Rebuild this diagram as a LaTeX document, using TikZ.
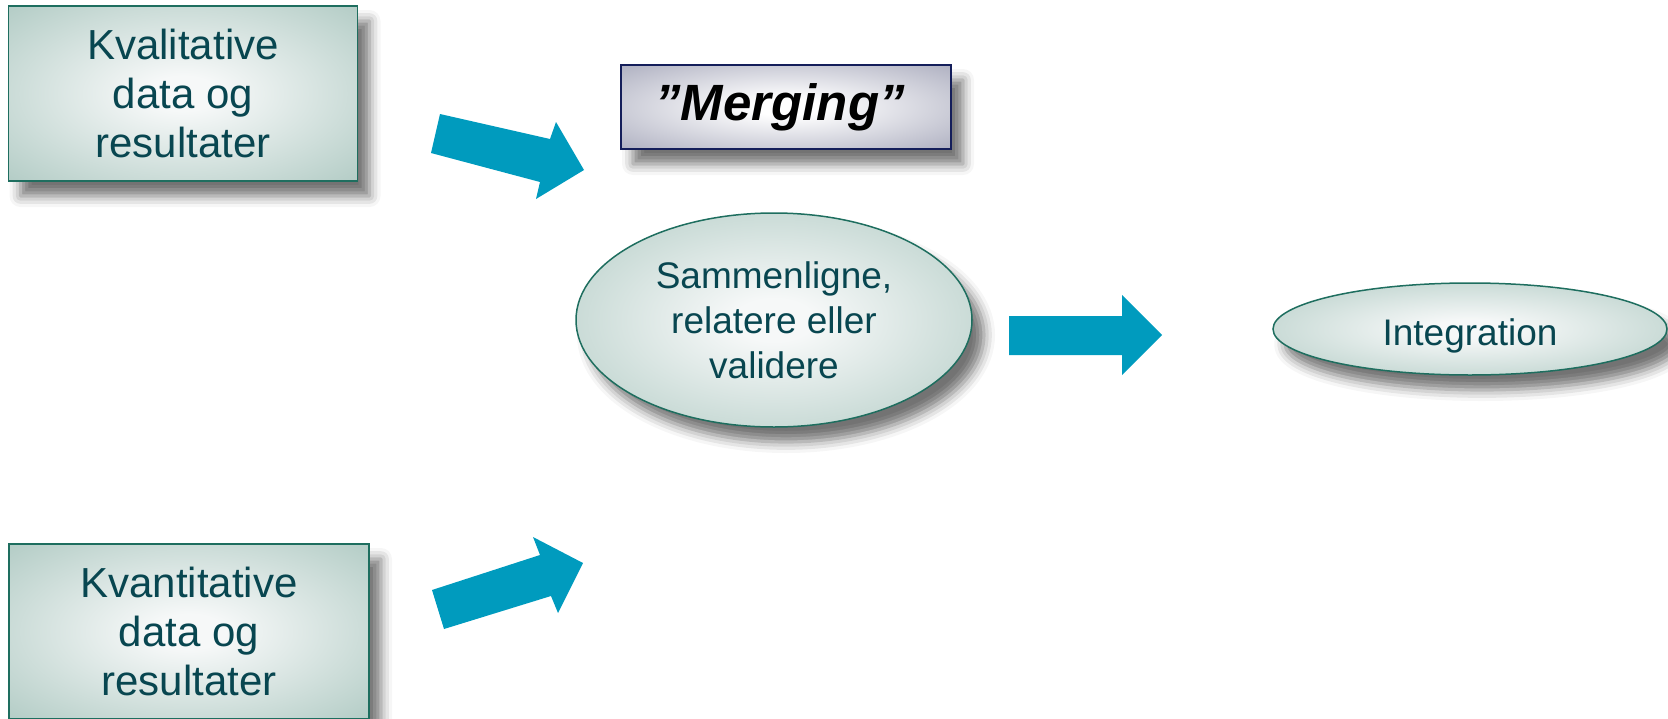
\documentclass[tikz,border=0pt]{standalone}
\usepackage{fontspec}
\setmainfont{Liberation Sans}
\usetikzlibrary{shapes.geometric,shadows.blur}
\definecolor{txt}{RGB}{8,70,80}
\definecolor{arr}{RGB}{0,155,190}
\definecolor{tealedge}{RGB}{30,110,95}
\definecolor{tealfill}{RGB}{165,195,187}
\definecolor{tealcore}{RGB}{246,248,248}
\definecolor{navy}{RGB}{20,30,90}
\definecolor{grayfill}{RGB}{150,152,174}
\pgfdeclareradialshading[tealfill,tealcore]{tealglow}{\pgfpoint{0bp}{0bp}}{%
  color(0bp)=(tealcore); color(5bp)=(tealcore); color(42bp)=(tealfill); color(72bp)=(tealfill!90!black)}
\pgfdeclareradialshading[grayfill]{grayglow}{\pgfpoint{0bp}{0bp}}{%
  color(0bp)=(white); color(5bp)=(white); color(45bp)=(grayfill); color(72bp)=(grayfill!90!black)}
\tikzset{
  shad/.style={blur shadow={shadow xshift=12pt, shadow yshift=-15pt, shadow blur radius=11pt, shadow opacity=55}},
  databox/.style={rectangle, draw=tealedge, line width=1.8pt, shading=tealglow,
    minimum height=175pt, inner sep=0pt, text=txt, align=center, font=\fontsize{42}{49}\selectfont, shad},
  mergebox/.style={rectangle, draw=navy, line width=1.8pt, shading=grayglow,
    minimum width=330pt, minimum height=84pt, inner sep=0pt, text=black, font=\fontsize{51}{54}\selectfont\bfseries\itshape, shad},
  oval/.style={ellipse, draw=tealedge, line width=1.5pt, shading=tealglow,
    inner sep=0pt, text=txt, align=center, font=\fontsize{37}{45}\selectfont, shad},
  blockarrow/.style={fill=arr, draw=none}
}
\begin{document}
\begin{tikzpicture}[x=1pt,y=-1pt]
\useasboundingbox (0,0) rectangle (1668,718);
\node[databox, minimum width=349pt] (qual) at (183,93.5) {Kvalitative\\data og\\resultater};
\node[databox, minimum width=360pt] (quant) at (189,631.5) {Kvantitative\\data og\\resultater};
\node[mergebox] (merge) at (786,107) {\hspace*{-12pt}”Merging”};
\node[oval, minimum width=396pt, minimum height=214pt] (cmp) at (774,320) {Sammenligne,\\relatere eller\\validere};
\node[oval, minimum width=394pt, minimum height=92pt, text height=40pt, text depth=8pt] (integ) at (1470,329) {Integration};
% block arrows
\fill[blockarrow] (440,114) -- (550,139) -- (556,122) -- (584,170) -- (536,199) -- (540,182) -- (431,153) -- cycle;
\fill[blockarrow] (432,590) -- (540,555) -- (533,537) -- (583,563) -- (558,613) -- (551,596) -- (444,629) -- cycle;
\fill[blockarrow] (1009,316) -- (1122,316) -- (1122,295) -- (1162,335) -- (1122,375) -- (1122,355) -- (1009,355) -- cycle;
\end{tikzpicture}
\end{document}
